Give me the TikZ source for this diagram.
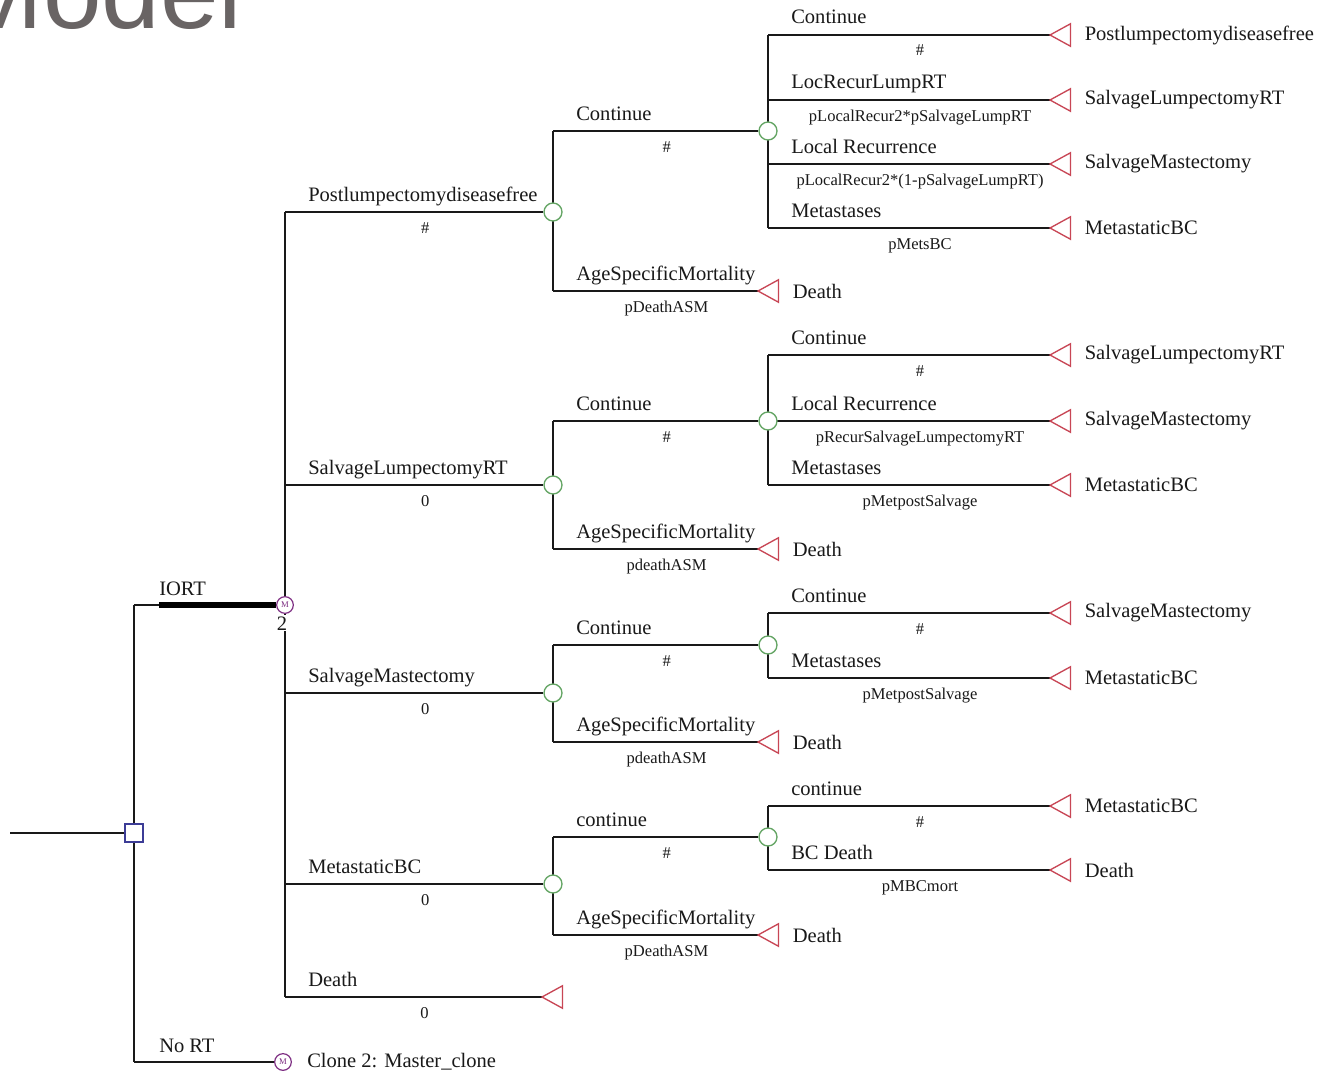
\documentclass[tikz,border=0pt]{standalone}
\usepackage{fontspec}
\setmainfont{Liberation Serif}
\newfontfamily\modelfont{Liberation Sans}
\usetikzlibrary{calc}
\pgfdeclarelayer{back}\pgfdeclarelayer{bg}\pgfsetlayers{back,bg,main}
\definecolor{chancec}{RGB}{100,165,100}
\definecolor{termc}{RGB}{200,70,85}
\definecolor{decc}{RGB}{60,60,150}
\definecolor{markc}{RGB}{125,45,130}
\definecolor{linec}{RGB}{25,25,25}
\definecolor{modelgray}{RGB}{105,100,100}
\newcommand\vbar[3]{\begin{pgfonlayer}{bg}\draw[conn] (#1.center |- #2.west) -- (#1.center |- #3.west);\end{pgfonlayer}}
\newcommand\tbranch[5]{%
  \begin{pgfonlayer}{bg}\draw[conn] (#1.center |- #2.west) -- (#2.west);\end{pgfonlayer}
  \node[lab] (#3a) at ($(#1.center |- #2.west)+(23,-11)$) {#4};
  \node[plab] (#3b) at ($(#1.center |- #2.west)!0.5!(#2.west)+(11,21)$) {#5};
}
\newcommand\termn[3]{%
  \node[termnode] (#1) at (#2,#3) {};
  \draw[termc, line width=1pt, line join=miter] (#1.west) -- (#1.north east) -- (#1.south east) -- cycle;
}
\newcommand\terml[4]{%
  \termn{#1}{#2}{#3}
  \node[tlab] (#1l) at ($(#1.east)+(14,0)$) {#4};
}
\begin{document}
\begin{tikzpicture}[x=0.75pt,y=-0.75pt,
  conn/.style={line width=1pt, draw=linec},
  chance/.style={circle, draw=chancec, fill=white, line width=1pt, minimum size=13.5pt, inner sep=0},
  markov/.style={circle, draw=markc, fill=white, line width=0.9pt, minimum size=12.5pt, inner sep=0, text=markc, font=\fontsize{6.5}{6.5}\selectfont},
  decision/.style={rectangle, draw=decc, fill=white, line width=1.2pt, minimum size=13.5pt, inner sep=0},
  termnode/.style={rectangle, inner sep=0, minimum width=15pt, minimum height=16.5pt, anchor=west},
  lab/.style={font=\fontsize{15.4}{18}\selectfont, anchor=base west, inner sep=0, text=linec},
  plab/.style={font=\fontsize{12.4}{14}\selectfont, anchor=base, inner sep=0, text=linec},
  tlab/.style={font=\fontsize{15.4}{18}\selectfont, anchor=west, inner sep=0, text=linec},
]
\begin{pgfonlayer}{back}
\fill[white] (0,0) rectangle (1324,1074);
\end{pgfonlayer}
\useasboundingbox (0,0) rectangle (1324,1074);

% title
\node[font=\modelfont\fontsize{79}{80}\selectfont, text=modelgray, anchor=base west, inner sep=0] (title) at (-45,29) {Model};

% root
\coordinate (root) at (10,833);
\node[decision] (D) at (134,833) {};
\node[markov] (M1) at (285,605) {M};
\node[markov] (M2) at (283,1062) {M};
\coordinate (iortthick) at (159,605);
\begin{pgfonlayer}{bg}
\draw[conn] (root) -- (D.west);
\draw[conn] (D.center |- M1) -- (D.center |- M2);
\draw[conn] (D.center |- M1) -- (M1.west);
\draw[line width=5.2pt, draw=black] (iortthick) -- (M1.west);
\draw[conn] (D.center |- M2) -- (M2.west);
\end{pgfonlayer}
\node[lab] (iortl) at (159,595) {IORT};
\node[lab] (nortl) at (159,1052) {No RT};
\node[plab, font=\fontsize{15.4}{18}\selectfont, anchor=north, fill=white, inner sep=1pt] (m1l) at ($(M1.south)+(-3,1)$) {2};
\node[tlab] (m2l) at (307,1062) {Clone 2: Master\_clone};

% level 1 chance nodes
\node[chance] (C1) at (553,212) {};
\node[chance] (C2) at (553,485) {};
\node[chance] (C3) at (553,693) {};
\node[chance] (C4) at (553,884) {};
\termn{T5}{542}{997}
\vbar{M1}{C1}{T5}
\tbranch{M1}{C1}{b1}{Postlumpectomydiseasefree}{\#}
\tbranch{M1}{C2}{b2}{SalvageLumpectomyRT}{0}
\tbranch{M1}{C3}{b3}{SalvageMastectomy}{0}
\tbranch{M1}{C4}{b4}{MetastaticBC}{0}
\tbranch{M1}{T5}{b5}{Death}{0}

% level 2
\node[chance] (C11) at (768,131) {};
\node[chance] (C21) at (768,421) {};
\node[chance] (C31) at (768,645) {};
\node[chance] (C41) at (768,837) {};
\terml{T1d}{758}{291}{Death}
\terml{T2d}{758}{549}{Death}
\terml{T3d}{758}{742}{Death}
\terml{T4d}{758}{935}{Death}
\vbar{C1}{C11}{T1d}
\tbranch{C1}{C11}{b11}{Continue}{\#}
\tbranch{C1}{T1d}{b1d}{AgeSpecificMortality}{pDeathASM}
\vbar{C2}{C21}{T2d}
\tbranch{C2}{C21}{b21}{Continue}{\#}
\tbranch{C2}{T2d}{b2d}{AgeSpecificMortality}{pdeathASM}
\vbar{C3}{C31}{T3d}
\tbranch{C3}{C31}{b31}{Continue}{\#}
\tbranch{C3}{T3d}{b3d}{AgeSpecificMortality}{pdeathASM}
\vbar{C4}{C41}{T4d}
\tbranch{C4}{C41}{b41}{continue}{\#}
\tbranch{C4}{T4d}{b4d}{AgeSpecificMortality}{pDeathASM}

% level 3
\terml{T11}{1050}{35}{Postlumpectomydiseasefree}
\terml{T12}{1050}{100}{SalvageLumpectomyRT}
\terml{T13}{1050}{164}{SalvageMastectomy}
\terml{T14}{1050}{228}{MetastaticBC}
\vbar{C11}{T11}{T14}
\tbranch{C11}{T11}{b111}{Continue}{\#}
\tbranch{C11}{T12}{b112}{LocRecurLumpRT}{pLocalRecur2*pSalvageLumpRT}
\tbranch{C11}{T13}{b113}{Local Recurrence}{pLocalRecur2*(1-pSalvageLumpRT)}
\tbranch{C11}{T14}{b114}{Metastases}{pMetsBC}

\terml{T21}{1050}{355}{SalvageLumpectomyRT}
\terml{T22}{1050}{421}{SalvageMastectomy}
\terml{T23}{1050}{485}{MetastaticBC}
\vbar{C21}{T21}{T23}
\tbranch{C21}{T21}{b211}{Continue}{\#}
\tbranch{C21}{T22}{b212}{Local Recurrence}{pRecurSalvageLumpectomyRT}
\tbranch{C21}{T23}{b213}{Metastases}{pMetpostSalvage}

\terml{T31}{1050}{613}{SalvageMastectomy}
\terml{T32}{1050}{678}{MetastaticBC}
\vbar{C31}{T31}{T32}
\tbranch{C31}{T31}{b311}{Continue}{\#}
\tbranch{C31}{T32}{b312}{Metastases}{pMetpostSalvage}

\terml{T41}{1050}{806}{MetastaticBC}
\terml{T42}{1050}{870}{Death}
\vbar{C41}{T41}{T42}
\tbranch{C41}{T41}{b411}{continue}{\#}
\tbranch{C41}{T42}{b412}{BC Death}{pMBCmort}
\end{tikzpicture}
\end{document}
